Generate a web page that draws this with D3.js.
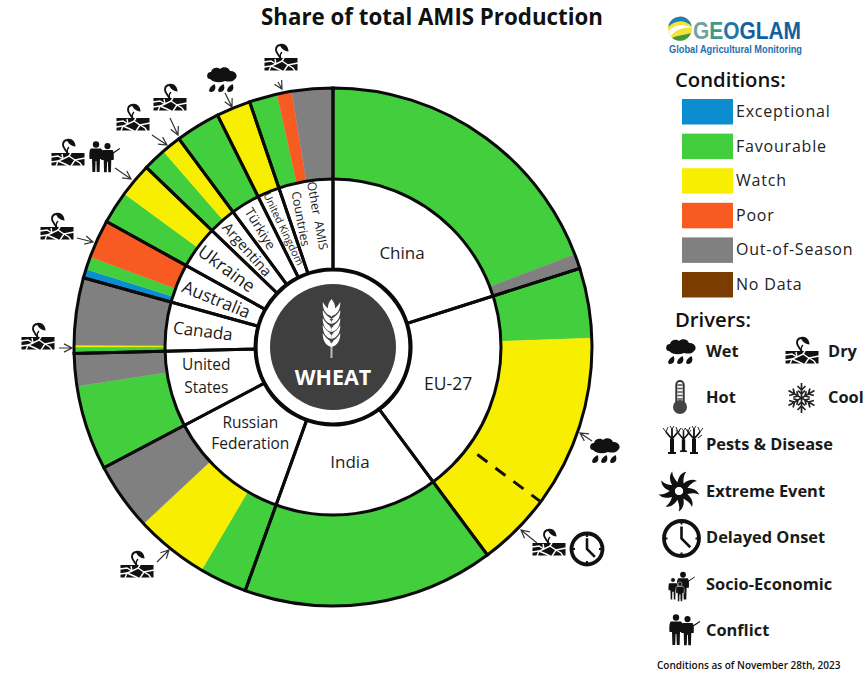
<!DOCTYPE html>
<html><head><meta charset="utf-8">
<script src="https://cdnjs.cloudflare.com/ajax/libs/d3/7.8.5/d3.min.js"></script>
<style>html,body{margin:0;padding:0;background:#fff}svg{display:block}text{font-family:"Open Sans",sans-serif}</style>
</head><body><svg id="c" width="865" height="675"></svg>
<script>
// ---------- data ----------
const countries = ["China","EU-27","India","Russian Federation","United States","Canada","Australia","Ukraine","Argentina","Türkiye","United Kingdom","Other AMIS Countries"];
const countryLines = [["China"],["EU-27"],["India"],["Russian","Federation"],["United","States"],["Canada"],["Australia"],["Ukraine"],["Argentina"],["Türkiye"],["United Kingdom"],["Other  AMIS","Countries"]];
const segmentCountry = [0,0, 1,1, 2, 3,3,3, 4,4, 5,5,5, 6,6,6, 7,7, 8,8, 9, 10, 11,11,11];
const segmentCondition = ["Favourable","Out-of-Season","Favourable","Watch","Favourable","Favourable","Watch","Out-of-Season","Favourable","Out-of-Season","Favourable","Watch","Out-of-Season","Exceptional","Favourable","Poor","Favourable","Watch","Favourable","Watch","Favourable","Watch","Favourable","Poor","Out-of-Season"];
const segmentShare = [19.17,0.93, 4.36,15.39, 15.67, 2.97,4.58,4.23, 5.3,2.03, 0.39,0.11,4.2, 0.55,0.8,2.4, 2.03,2.11, 1.44,1.23, 2.78, 2.14, 1.75,0.92,2.55];
const conditionNames = ["Exceptional","Favourable","Watch","Poor","Out-of-Season","No Data"];
const conditionColors = ["#0b8dcf","#43cf3d","#f8ef00","#f75b21","#808080","#7a3c00"];
const driverNames = ["Wet","Dry","Hot","Cool","Pests & Disease","Extreme Event","Delayed Onset","Socio-Economic","Conflict"];
const euSplitShare = 35.2; // dashed split inside the EU-27 watch segment

// ---------- layout ----------
const svg = d3.select("#c");
const cx = 333, cy = 347, R = 259, Rm = 168, Ri = 78, Rc = 63;
const shareSum = d3.sum(segmentShare);
const ang = d3.scaleLinear().domain([0, shareSum]).range([0, 2*Math.PI]);
const color = d3.scaleOrdinal(conditionNames, conditionColors);
const g = svg.append("g").attr("transform",`translate(${cx},${cy})`);
const arc = d3.arc();

let cum = 0;
const segs = segmentShare.map((v,i)=>{const s={start:cum,end:cum+v,cond:segmentCondition[i],c:segmentCountry[i]};cum+=v;return s;});
const groups = countries.map((n,i)=>{const ss=segs.filter(s=>s.c===i);return {name:n,i,start:ss[0].start,end:ss[ss.length-1].end};});

g.selectAll("path.seg").data(segs).join("path").attr("class","seg")
 .attr("fill",d=>color(d.cond)).attr("stroke",d=>color(d.cond)).attr("stroke-width",0.3)
 .attr("d",d=>arc({innerRadius:Rm,outerRadius:R,startAngle:ang(d.start),endAngle:ang(d.end)}));
g.selectAll("path.in").data(groups).join("path").attr("class","in").attr("fill","#fff")
 .attr("d",d=>arc({innerRadius:Ri,outerRadius:Rm,startAngle:ang(d.start),endAngle:ang(d.end)}));
g.selectAll("path.out").data(groups).join("path").attr("class","out").attr("fill","none").attr("stroke","#0a0a0a").attr("stroke-width",3)
 .attr("d",d=>arc({innerRadius:Ri,outerRadius:R,startAngle:ang(d.start),endAngle:ang(d.end)}));
g.append("circle").attr("r",Rm).attr("fill","none").attr("stroke","#0a0a0a").attr("stroke-width",3);
g.append("circle").attr("r",Ri-1).attr("fill","#fff").attr("stroke","#0a0a0a").attr("stroke-width",3.2);
g.append("circle").attr("r",Rc).attr("fill","#3f3f3f");

// dashed split
const ea = ang(euSplitShare)-Math.PI/2;
g.append("line").attr("x1",180*Math.cos(ea)).attr("y1",180*Math.sin(ea)).attr("x2",(R-1)*Math.cos(ea)).attr("y2",(R-1)*Math.sin(ea))
 .attr("stroke","#111").attr("stroke-width",3).attr("stroke-dasharray","12.5 10");

// country labels: radial where the wedge is narrow
const labelLayout = [
 {r:117,size:17},{r:121,size:17.5},{r:116,size:17},{r:119,size:15.5,nudge:3},{r:130,size:15.5,gap:23,nudge:1.6},
 {r:131,size:17,radial:1},{r:126,size:17.5,radial:1},{r:132,size:18,radial:1},{r:130,size:14.5,radial:1},
 {r:139,size:13.5,radial:1},{r:128,size:10.5,radial:1,rotAdd:-3},{r:132,size:12.3,radial:1,gap:17,nudge:-1}];
groups.forEach((d,i)=>{
  const L = labelLayout[i];
  const a = ang((d.start+d.end)/2) + (L.nudge||0)*Math.PI/180;
  const x = L.r*Math.sin(a), y = -L.r*Math.cos(a);
  const rot = L.radial ? a*180/Math.PI-270+(L.rotAdd||0) : 0;
  const gap = L.gap || 21, lines = countryLines[i];
  const t = g.append("g").attr("transform",`translate(${x},${y}) rotate(${rot})`);
  lines.forEach((s,k)=>t.append("text").attr("text-anchor","middle").attr("y",(k-(lines.length-1)/2)*gap+L.size*0.36)
    .attr("font-size",L.size).attr("fill","#1c1c1c").attr("xml:space","preserve").text(s));
});

// wheat emblem
const wheat = g.append("g").attr("transform","translate(-1.5,0)").attr("fill","#fff");
wheat.append("rect").attr("x",-1).attr("y",-4).attr("width",2).attr("height",15).attr("fill","#bdbdbd");
wheat.append("path").attr("d","M0,-48 C4,-43 5.5,-38 0,-30 C-5.5,-38 -4,-43 0,-48Z");
[-36,-28,-20,-13,-5].forEach(y=>{
  [-1,1].forEach(s=>{
    wheat.append("path").attr("d",`M0,${y} C${s*3},${y-2} ${s*7},${y-5} ${s*8.7},${y-9} C${s*9.3},${y-3} ${s*6},${y+4} 0,${y+5}Z`);
  });
});
[-27,-20,-13,-5].forEach(y=>wheat.append("path").attr("fill","#555").attr("d",`M-2,${y-1} L2,${y-1} L0,${y+1.5}Z`));
g.append("text").attr("x",0).attr("y",38).attr("text-anchor","middle").attr("font-size",21.5).attr("font-weight",700).attr("fill","#fff").text("WHEAT");

// ---------- icons ----------
function dry(p){
  p.append("rect").attr("x",-16.5).attr("y",0).attr("width",33).attr("height",12.5).attr("fill","#111");
  ["M-17,4 L-10,3 L-5,6 L1,3 L7,7 L17,5","M-12,13 L-10,8 L-5,6","M-10,8 L-3,11 L1,13","M-17,9 L-10,8","M7,7 L3,13","M7,7 L12,10 L14,13","M-6,1 L-5,6","M1,3 L3,0"]
   .forEach(d=>p.append("path").attr("d",d).attr("fill","none").attr("stroke","#fff").attr("stroke-width",1.4));
  p.append("path").attr("d","M0,1 C-2,-3 -5,-5 -5,-8 C-5,-11 -3,-13 0,-13").attr("fill","none").attr("stroke","#111").attr("stroke-width",1.9);
  p.append("path").attr("d","M-1,-14 C3,-15.5 7.5,-12 7.5,-6.5 C3,-7 -1,-10 -1,-14Z").attr("fill","#111");
  p.append("path").attr("d","M0,1 C-1,-1 -1,-4 1,-6").attr("fill","none").attr("stroke","#111").attr("stroke-width",1.3);
}
function wet(p){
  p.append("path").attr("fill","#111").attr("d","M-12,-2 C-16,-2 -16,-9 -11,-9 C-10,-14 -4,-14 -2,-12 C1,-15 7,-14 8,-10 C13,-11 17,-5 13,-2 C11,1 7,1 3,0 C-2,2 -8,2 -12,-2Z");
  [-10,-1,8].forEach(x=>p.append("path").attr("fill","#111").attr("d",`M${x+2.5},3 C${x+4.5},7 ${x+3},11 ${x-1},11 C${x-4.5},11 ${x-3},6 ${x+2.5},3Z`));
}
function person(p,x,y,s,arm,outline){
  const t=p.append("g").attr("transform",`translate(${x},${y}) scale(${s})`).attr("fill","#111");
  if(outline) t.attr("stroke","#fff").attr("stroke-width",0.8);
  t.append("circle").attr("cx",0).attr("cy",-12.5).attr("r",3.2);
  t.append("path").attr("d","M-5,-8.5 L5,-8.5 C6.5,-8 7,-3 6.5,2 L4,2 L3.6,15 L0.8,15 L0.4,4 L-0.4,4 L-0.8,15 L-3.6,15 L-4,2 L-6.5,2 C-7,-3 -6.5,-8 -5,-8.5Z");
  if(arm) t.append("path").attr("d","M4,-4 L13,-10").attr("stroke","#111").attr("stroke-width",1.1);
}
function conflict(p){ person(p,-6,1,1,false); person(p,5.5,2,0.95,true); }
function socio(p){ person(p,2,1,0.9,true); person(p,-8,4,0.72,false,true); person(p,-1,7,0.64,true,true); }
function clock(p,r){
  p.append("circle").attr("r",r-2).attr("fill","#fff").attr("stroke","#111").attr("stroke-width",3.8);
  p.append("path").attr("d",`M0,${-r*0.62} L0,0 L${r*0.45},${r*0.45}`).attr("fill","none").attr("stroke","#111").attr("stroke-width",2.6);
  [0,90,180,270].forEach(a=>p.append("line").attr("y1",-r+1).attr("y2",-r+5.5).attr("transform",`rotate(${a})`).attr("stroke","#111").attr("stroke-width",2));
}
function thermo(p){
  p.append("rect").attr("x",-3.7).attr("y",-15).attr("width",7.4).attr("height",26).attr("rx",3.7).attr("fill","#fff").attr("stroke","#333").attr("stroke-width",2);
  p.append("circle").attr("cy",11).attr("r",7).attr("fill","#444");
  d3.range(5).forEach(k=>p.append("line").attr("x1",-2.5).attr("x2",2.5).attr("y1",-11+k*3.5).attr("y2",-11+k*3.5).attr("stroke","#555").attr("stroke-width",1.6));
}
function snow(p){
  d3.range(6).forEach(k=>{
    const a=p.append("g").attr("transform",`rotate(${k*60})`).attr("stroke","#222").attr("stroke-width",1.7).attr("fill","none");
    a.append("path").attr("d","M0,0 L0,-15 M-4,-12 L0,-8 L4,-12 M-3.5,-7.5 L0,-4 L3.5,-7.5");
  });
}
function tree(p,x,s){
  const t=p.append("g").attr("transform",`translate(${x},0) scale(${s})`).attr("stroke","#111").attr("fill","none");
  t.append("path").attr("stroke-width",4).attr("d","M0,12 L0,-2");
  t.append("path").attr("stroke-width",1.8).attr("d","M0,-2 L-6,-9 M0,-2 L6,-9 M0,-1 L0,-12");
  t.append("path").attr("stroke-width",0.9).attr("d","M-6,-9 L-9,-13 M-6,-9 L-4,-14 M6,-9 L9,-13 M6,-9 L4,-14 M0,-12 L-2,-15 M0,-12 L2,-15");
  t.append("path").attr("stroke-width",2).attr("d","M-4,12 L4,12");
}
function pests(p){ tree(p,-11,1); tree(p,0.5,0.85); tree(p,11,1); p.append("path").attr("d","M15,-3 L19,-6").attr("stroke","#111"); }
function cyclone(p){
  p.append("g").selectAll("path").data(d3.range(9)).join("path").attr("fill","#111")
   .attr("transform",d=>`rotate(${d*40})`)
   .attr("d","M1,-4.5 C7,-11 13,-13 18,-10 C13,-9 9,-5 5.5,2 C5,-1 3,-3 1,-4.5 Z");
  p.append("circle").attr("r",3.8).attr("fill","#fff");
}
function place(fn,x,y){ fn(svg.append("g").attr("transform",`translate(${x},${y})`)); }
function arrow(x1,y1,x2,y2){
  const a=Math.atan2(y2-y1,x2-x1), h=9, sp=0.48;
  svg.append("path").attr("fill","none").attr("stroke","#333").attr("stroke-width",1.2)
   .attr("d",`M${x1},${y1} L${x2},${y2} M${x2-h*Math.cos(a-sp)},${y2-h*Math.sin(a-sp)} L${x2},${y2} L${x2-h*Math.cos(a+sp)},${y2-h*Math.sin(a+sp)}`);
}
// annotations around the ring
[[281,58],[170,98],[133,118],[68,153],[57,227],[38,337],[549,543],[137,565]].forEach(d=>place(dry,d[0],d[1]));
[[222,81],[605,452]].forEach(d=>place(wet,d[0],d[1]));
place(conflict,102,156);
place(p=>clock(p,17.5),587,549);
[[278,82,282,89],[225,93,232,107],[170,118,178,135],[152,135,167,145],[115,168,131,179],[77,238,93,242],[59,348,72,348],[592,441,580,433],[537,543,521,530],[157,562,169,550]].forEach(a=>arrow(...a));

// ---------- title ----------
svg.append("text").attr("x",432).attr("y",25).attr("text-anchor","middle").attr("font-size",22.3).attr("font-weight",700).attr("fill","#111").text("Share of total AMIS Production");

// ---------- logo ----------
const logo = svg.append("g");
const grad = svg.append("defs").append("linearGradient").attr("id","geo").attr("gradientUnits","userSpaceOnUse").attr("x1",693).attr("x2",801).attr("y1",0).attr("y2",0);
[[0,"#6fa3a0"],[0.14,"#6fa3a0"],[0.16,"#3d9a86"],[0.27,"#3d9a86"],[0.29,"#1f77a8"],[0.42,"#1f77a8"],[0.44,"#14609c"],[1,"#14609c"]].forEach(s=>grad.append("stop").attr("offset",s[0]).attr("stop-color",s[1]));
logo.append("circle").attr("cx",680).attr("cy",28.5).attr("r",12).attr("fill","#f1e33a");
logo.append("path").attr("d","M668.2,27 A12,12 0 0 1 691.8,26 C684,19 675,20 668.2,27Z").attr("fill","#1d7fbf");
logo.append("path").attr("d","M668.5,31 C674,24 684,23 691.8,28 C684,27 676,29 671,36Z").attr("fill","#fff");
logo.append("path").attr("d","M672,38 C678,35 685,35 691,33 A12,12 0 0 1 672,38Z").attr("fill","#3d9a3a");
logo.append("text").attr("x",693).attr("y",38.5).attr("font-size",23).attr("font-weight",700).attr("fill","url(#geo)").attr("textLength",108).attr("lengthAdjust","spacingAndGlyphs").style("font-family","'Liberation Sans',sans-serif").text("GEOGLAM");
logo.append("text").attr("x",669).attr("y",52.5).attr("font-size",10).attr("font-weight",700).attr("fill","#1e6fb2").attr("textLength",133).attr("lengthAdjust","spacingAndGlyphs").style("font-family","'Liberation Sans',sans-serif").text("Global Agricultural Monitoring");

// ---------- legend ----------
svg.append("text").attr("x",675).attr("y",87).attr("font-size",20.3).attr("font-weight",600).attr("fill","#111").text("Conditions:");
const swY=d3.scalePoint().domain(conditionNames).range([99,272]);
conditionNames.forEach(n=>{
  svg.append("rect").attr("x",682).attr("y",swY(n)).attr("width",51).attr("height",25.5).attr("fill",color(n));
  svg.append("text").attr("x",736).attr("y",swY(n)+18).attr("font-size",16).attr("letter-spacing",0.8).attr("fill","#222").text(n);
});
svg.append("text").attr("x",675).attr("y",327).attr("font-size",20.3).attr("font-weight",600).attr("fill","#111").text("Drivers:");
const driverLayout={"Wet":[706,357,wet,681,353],"Dry":[828,357,dry,802,351],"Hot":[706,403,thermo,680,396],"Cool":[828,403,snow,801.5,398],
 "Pests & Disease":[706,450,pests,683,441],"Extreme Event":[706,497,cyclone,679,491],"Delayed Onset":[706,543,p=>clock(p,19.5),681.5,538.5],
 "Socio-Economic":[706,590,socio,681,585],"Conflict":[706,636,conflict,682,629]};
driverNames.forEach(n=>{
  const L=driverLayout[n];
  svg.append("text").attr("x",L[0]).attr("y",L[1]).attr("font-size",16.4).attr("font-weight",700).attr("fill","#1a1a1a").text(n);
  place(L[2],L[3],L[4]);
});
svg.append("text").attr("x",657).attr("y",669).attr("font-size",10).attr("font-weight",600).attr("fill","#111").text("Conditions as of November 28th, 2023");
</script></body></html>
